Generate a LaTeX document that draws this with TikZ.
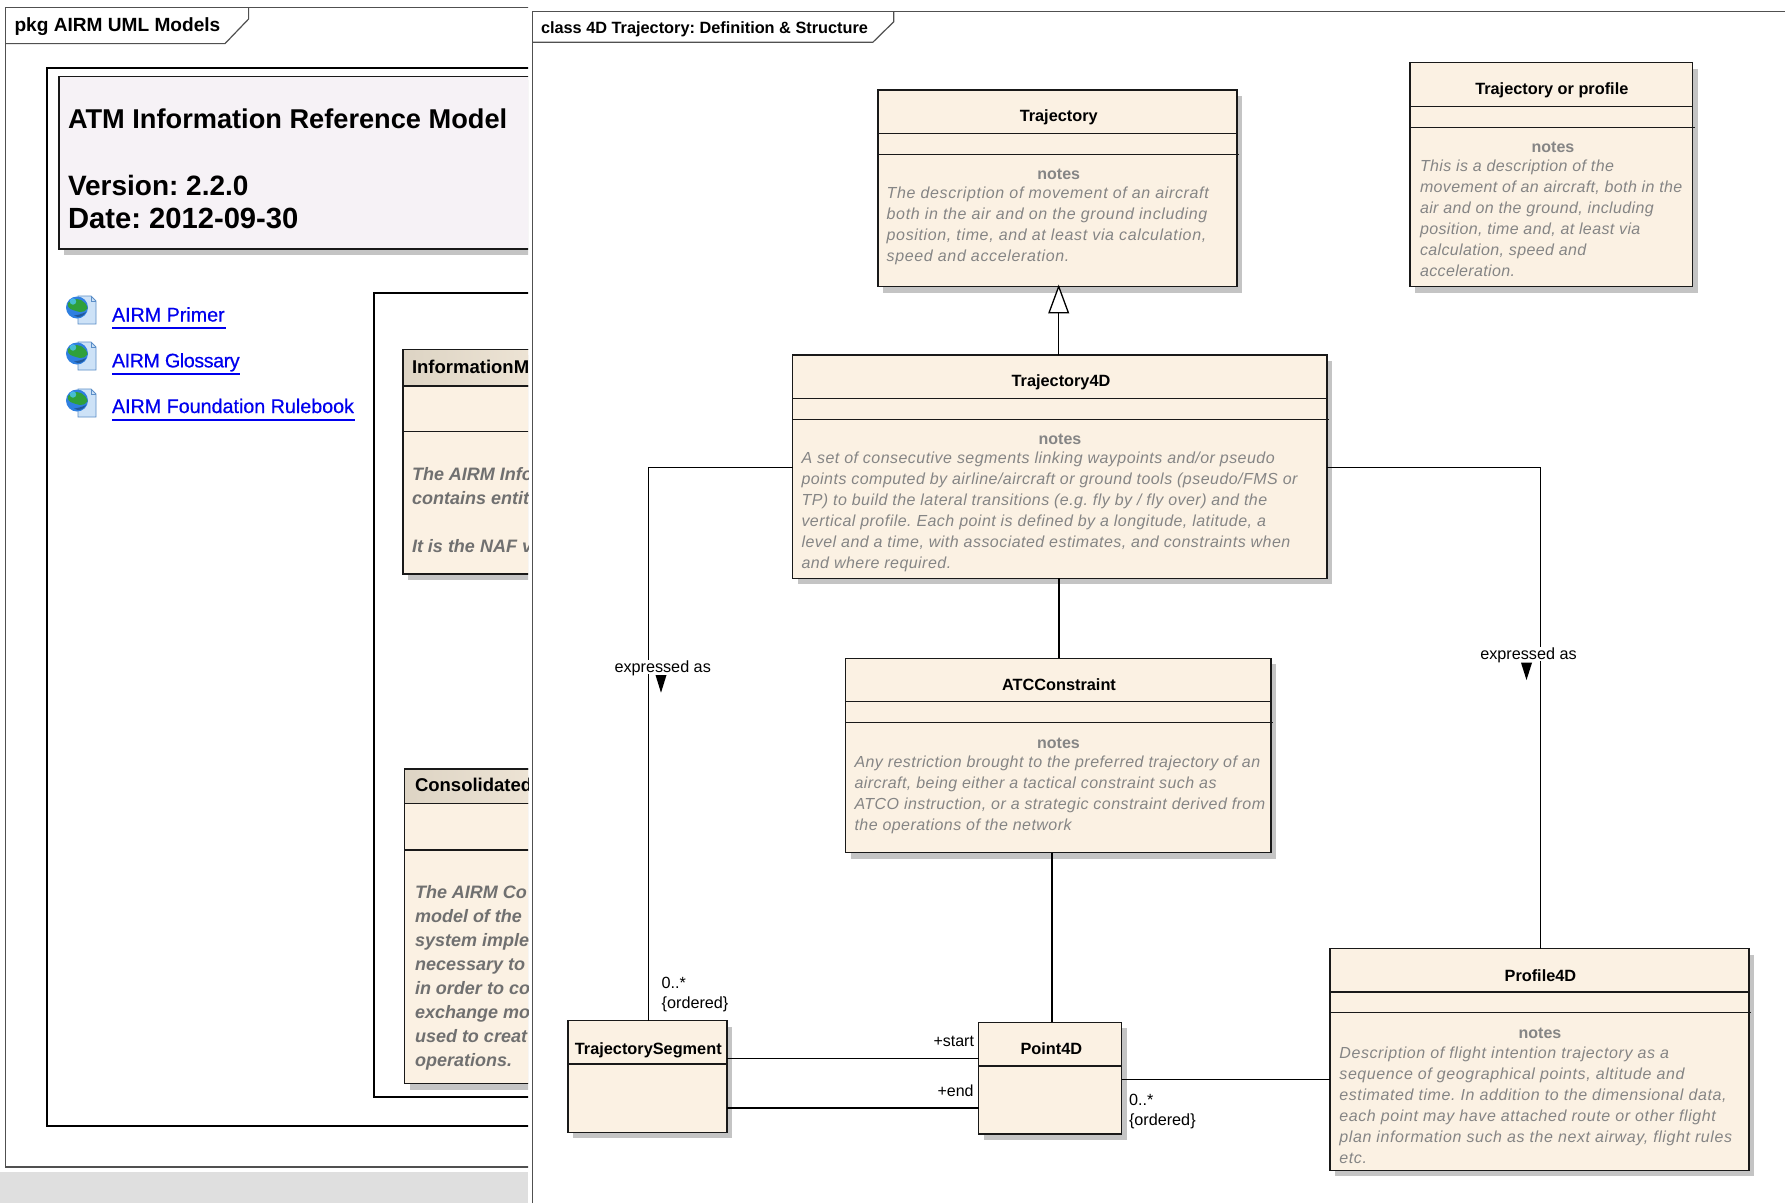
\documentclass[tikz,border=0pt]{standalone}
\usepackage{fontspec}
\setmainfont{Liberation Sans}
\usetikzlibrary{shadows,calc}
\frenchspacing
\definecolor{clsfill}{HTML}{FBF1E3}
\definecolor{hdrfill}{HTML}{F6F2F6}
\definecolor{hdrshade}{HTML}{DDD4C4}
\definecolor{shadowgrey}{HTML}{C4C4C4}
\definecolor{framegrey}{HTML}{505050}
\definecolor{notegrey}{HTML}{858585}
\definecolor{blurgrey}{HTML}{707070}
\definecolor{bandgrey}{HTML}{DFDFDF}
\definecolor{linkblue}{HTML}{0000EE}
\definecolor{pageblue}{HTML}{CDE2F7}
\definecolor{pageedge}{HTML}{5C8FC8}
\definecolor{globeblue}{HTML}{2F7FE0}
\definecolor{globegreen}{HTML}{2FA03A}
\newcommand\ml[1]{\begin{tabular}[t]{@{}l@{}}#1\end{tabular}}
\newcommand\lsp[1]{\addfontfeatures{LetterSpace=#1}}
\tikzset{
  x=1pt,y=-1pt,
  outer sep=0pt,inner sep=0pt,
  frameline/.style={draw=framegrey,line width=1.2pt,line join=miter},
  blackrect/.style={draw=black,line width=2pt},
  clsbox/.style={draw=black!90,line width=1.5pt,fill=clsfill,rectangle,
    drop shadow={shadow xshift=5pt,shadow yshift=-6pt,fill=shadowgrey,opacity=1}},
  cpt/.style={draw=black!90,line width=1.5pt},
  conn/.style={draw=black,line width=1.5pt},
  txt/.style={anchor=base west,inner sep=0pt},
  ctitle/.style={anchor=base,font=\fontsize{16.3}{20}\selectfont\bfseries,text=black},
  cnotes/.style={anchor=base,font=\fontsize{16}{20}\selectfont\bfseries,text=notegrey},
  cbody/.style={txt,font=\fontsize{16}{21}\selectfont\itshape,text=notegrey},
  clabel/.style={font=\fontsize{16.2}{20}\selectfont,text=black,inner sep=0pt},
  blurtext/.style={txt,font=\fontsize{18}{24}\selectfont\bfseries\itshape,text=blurgrey},
  blurtitle/.style={txt,font=\fontsize{18.5}{24}\selectfont\bfseries,text=black},
  linktext/.style={txt,font=\fontsize{19.7}{24}\selectfont\addfontfeatures{FakeBold=0.5},text=linkblue},
  linkline/.style={draw=linkblue,line width=1.8pt},
  openhead/.style={draw=black,line width=1.3pt,fill=white},
  solidhead/.style={fill=black,draw=none},
  pagefill/.style={draw=pageedge,line width=.8pt,fill=pageblue},
}
% box with name, one compartment line
\newcommand\clsone[6]{%
  \node[clsbox,anchor=north west,minimum width=#4-#2,minimum height=#5-#3] (#1) at (#2,#3) {};
  \draw[cpt] (#1.west |- 0,#6) -- (#1.east |- 0,#6);}
% box with two compartment lines
\newcommand\clstwo[7]{%
  \clsone{#1}{#2}{#3}{#4}{#5}{#6}
  \draw[cpt] (#1.west |- 0,#7) -- ($(#1.east |- 0,#7)+(2,0)$);}
\newcommand\webicon[2]{%
  \begin{scope}[shift={(#1,#2)}]
    \draw[pagefill] (12,1) -- (25,1) -- (30,6) -- (30,29) -- (12,29) -- cycle;
    \draw[draw=pageedge,line width=.6pt] (25,1) -- (25,6) -- (30,6);
    \fill[globeblue] (11,12.5) circle (11);
    \fill[globegreen] (6,5) .. controls (12,2) and (20,6) .. (21.5,13) .. controls (17,20) and (11,16) .. (7,15) .. controls (3,14) and (1,11) .. (2,8) -- cycle;
    \fill[cyan!70!white,opacity=.8] (7,6.5) circle (3.2);
    \fill[globeblue!70!black] (8,20.5) .. controls (13,24) and (18,21) .. (20,17) .. controls (15,19.5) and (11,20) .. (8,20.5) -- cycle;
  \end{scope}}
\begin{document}
\begin{tikzpicture}
\useasboundingbox (0,0) rectangle (1785,1203);
\fill[white] (0,0) rectangle (1785,1203);
% ---------- left panel
\begin{scope}
\clip (0,0) rectangle (528,1203);
\fill[bandgrey] (0,1172) rectangle (528,1203);
\draw[frameline] (560,7.7) -- (5.2,7.7) -- (5.2,1167) -- (560,1167);
\draw[frameline] (5.2,43.6) -- (225,43.6) -- (248.6,19) -- (248.6,7.7);
\node[txt,font=\fontsize{19.1}{24}\selectfont\bfseries] (pkgtitle) at (14.5,31.4) {pkg AIRM UML Models};
\draw[blackrect] (560,67.7) -- (46.5,67.7) -- (46.5,1126) -- (560,1126);
\fill[shadowgrey] (64,254.5) rectangle (560,80);
\node[draw=black!90,line width=1.6pt,fill=hdrfill,anchor=north west,minimum width=520,minimum height=172.3] (hdr) at (59.2,76.5) {};
\node[txt,font=\fontsize{27.2}{30}\selectfont\bfseries] (hd1) at (68,128) {ATM Information Reference Model};
\node[txt,font=\fontsize{28}{30}\selectfont\bfseries] (hd2) at (68,195) {Version: 2.2.0};
\node[txt,font=\fontsize{29.2}{30}\selectfont\bfseries] (hd3) at (68,228.5) {Date: 2012-09-30};
\webicon{66}{295}
\webicon{66}{341}
\webicon{66}{388}
\node[linktext] (l1) at (112,321.5) {AIRM Primer};
\node[linktext] (l2) at (112,367.4) {\lsp{-2.2}AIRM Glossary};
\node[linktext] (l3) at (112,413) {AIRM Foundation Rulebook};
\draw[linkline] (l1.base west |- 0,328) -- (225.5,328);
\draw[linkline] (l2.base west |- 0,374) -- (240,374);
\draw[linkline] (l3.base west |- 0,420) -- (355,420);
\draw[blackrect] (560,293) -- (373.6,293) -- (373.6,1096.5) -- (560,1096.5);
\clstwo{im}{403}{349.4}{640}{574}{385.8}{431.7}
\shade[left color=hdrshade,right color=clsfill,draw=black!90,line width=1.5pt] (403,349.4) rectangle (640,385.8);
\node[blurtitle] (imt) at (412,373) {InformationM};
\node[blurtext] (imn) at (412,480) {\ml{The AIRM Info\\contains entit\\\\It is the NAF v}};
\clstwo{cm}{404.6}{769}{640}{1083.5}{803.5}{850}
\shade[left color=hdrshade,right color=clsfill,draw=black!90,line width=1.5pt] (404.6,769) rectangle (640,803.5);
\node[blurtitle] (cmt) at (415,791) {Consolidated};
\node[blurtext] (cmn) at (415,898) {\ml{The AIRM Co\\model of the\\system implem\\necessary to\\in order to co\\exchange mo\\used to creat\\operations.}};
\end{scope}
% ---------- right panel
\fill[white] (532.7,0) rectangle (1785,1203);
\draw[frameline] (532.7,1203) -- (532.7,11.7) -- (1785,11.7);
\draw[frameline] (532.7,42.3) -- (872.8,42.3) -- (893.8,21.7) -- (893.8,11.7);
\node[txt,font=\fontsize{16.3}{20}\selectfont\bfseries] (classtitle) at (541,33.3) {class 4D Trajectory: Definition \& Structure};
% classes
\clstwo{traj}{878}{90}{1237}{286.5}{133.5}{154.5}
\node[ctitle] (trajt) at (1058.7,121.7) {Trajectory};
\node[cnotes] (trajn) at (1058.7,179.3) {notes};
\node[cbody] (trajb) at (886.7,198) {\lsp{4}\ml{The description of movement of an aircraft\\both in the air and on the ground including\\position, time, and at least via calculation,\\speed and acceleration.}};
\clstwo{top}{1410}{62.7}{1692.7}{286.5}{106.3}{127.3}
\node[ctitle] (topt) at (1551.8,94) {Trajectory or profile};
\node[cnotes] (topn) at (1553,152.3) {notes};
\node[cbody] (topb) at (1420,171) {\lsp{2.3}\ml{This is a description of the\\movement of an aircraft, both in the\\air and on the ground, including\\position, time and, at least via\\calculation, speed and\\acceleration.}};
\clstwo{tfd}{792.6}{355}{1326.8}{578.4}{398.3}{419.3}
\node[ctitle] (tfdt) at (1061,386) {Trajectory4D};
\node[cnotes] (tfdn) at (1060,444) {notes};
\node[cbody] (tfdb) at (801.5,463.3) {\lsp{2.9}\ml{A set of consecutive segments linking waypoints and/or pseudo\\points computed by airline/aircraft or ground tools (pseudo/FMS or\\TP) to build the lateral transitions (e.g. fly by / fly over) and the\\vertical profile. Each point is defined by a longitude, latitude, a\\level and a time, with associated estimates, and constraints when\\and where required.}};
\clstwo{atc}{845.5}{658.3}{1271}{852.7}{701.7}{722.3}
\node[ctitle] (atct) at (1059,690) {ATCConstraint};
\node[cnotes] (atcn) at (1058.5,748.3) {notes};
\node[cbody] (atcb) at (854.5,767.3) {\lsp{2.8}\ml{Any restriction brought to the preferred trajectory of an\\aircraft, being either a tactical constraint such as\\ATCO instruction, or a strategic constraint derived from\\the operations of the network}};
\clsone{seg}{568}{1020.7}{726.9}{1132.4}{1064}
\node[ctitle] (segt) at (648.3,1054) {TrajectorySegment};
\clsone{ptd}{978.7}{1022.3}{1121.5}{1134}{1066}
\node[ctitle] (ptdt) at (1051.4,1054) {Point4D};
\clstwo{pro}{1330.2}{948.7}{1748.8}{1170.4}{992}{1012.7}
\node[ctitle] (prot) at (1540.4,981) {Profile4D};
\node[cnotes] (pron) at (1540,1038.3) {notes};
\node[cbody] (prob) at (1339.4,1058.3) {\lsp{3.7}\ml{Description of flight intention trajectory as a\\sequence of geographical points, altitude and\\estimated time. In addition to the dimensional data,\\each point may have attached route or other flight\\plan information such as the next airway, flight rules\\etc.}};
% connectors
\coordinate (genx) at (1058.7,313.3);
\draw[conn] (tfd.north -| genx) -- (genx);
\draw[openhead] (traj.south -| genx) -- ++(9.7,26.3) -- ++(-19.4,0) -- cycle;
\coordinate (lc) at (648.3,467.5);
\coordinate (rc) at (1540.4,467.5);
\draw[conn] (tfd.west |- lc) -- (lc) -- (seg.north -| lc);
\draw[conn] (tfd.east |- rc) -- (rc) -- (pro.north -| rc);
\coordinate (tax) at (1059,600);
\draw[conn] (tfd.south -| tax) -- (atc.north -| tax);
\coordinate (apx) at (1052,950);
\draw[conn] (atc.south -| apx) -- (ptd.north -| apx);
\coordinate (st) at (800,1058.4);
\coordinate (en) at (800,1108.2);
\coordinate (pp) at (1200,1079.7);
\draw[conn] (seg.east |- st) -- (ptd.west |- st);
\draw[conn] (seg.east |- en) -- (ptd.west |- en);
\draw[conn] (ptd.east |- pp) -- (pro.west |- pp);
% connector labels
\node[clabel,anchor=base,fill=white,text depth=2pt,text height=12pt] (expl) at (662.7,672) {expressed as};
\node[clabel,anchor=base,fill=white,text depth=2pt,text height=12pt] (expr) at (1528.5,659) {expressed as};
\fill[solidhead] (655.5,675) -- (666.5,675) -- (661,692.7) -- cycle;
\fill[solidhead] (1521,662.7) -- (1532,662.7) -- (1526.5,680) -- cycle;
\node[clabel,anchor=base east,font=\fontsize{16}{20}\selectfont] (lstart) at (974,1046.5) {+start};
\node[clabel,anchor=base east,font=\fontsize{16}{20}\selectfont] (lend) at (973.6,1096.5) {+end};
\node[clabel,anchor=base west] (mleft) at (661.7,988.8) {\ml{0..*\\\{ordered\}}};
\node[clabel,anchor=base west] (mright) at (1129,1105.5) {\ml{0..*\\\{ordered\}}};
\end{tikzpicture}
\end{document}
